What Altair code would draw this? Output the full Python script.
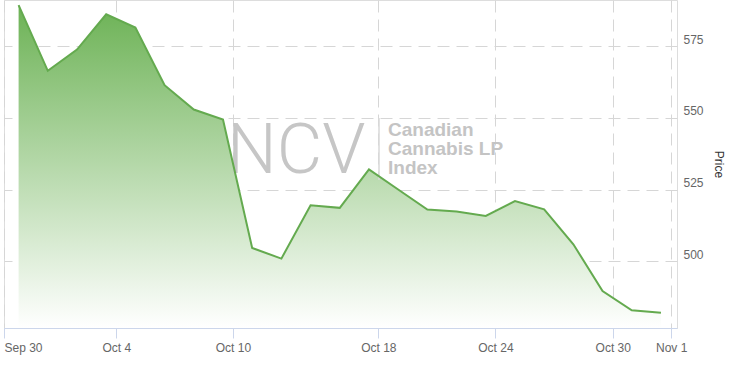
import json
import altair as alt
import pandas as pd

# ---- data (23 trading sessions, ordinal x) ----
session_index = list(range(23))
price = [589.3, 566.4, 573.8, 586.1, 581.5, 561.4, 552.9, 549.4, 504.6, 500.9,
         519.5, 518.6, 532.0, 525.0, 518.0, 517.3, 515.8, 521.0, 518.1, 505.9,
         489.6, 482.9, 482.0]

tick_positions = [-0.5, 3.345, 7.34, 12.32, 16.33, 20.35, 22.35]
tick_labels = ["Sep 30", "Oct 4", "Oct 10", "Oct 18", "Oct 24", "Oct 30", "Nov 1"]
y_ticks = [500, 525, 550, 575]
x_domain = [-0.5, 22.55]
y_domain = [476.7, 591.1]

df = pd.DataFrame({"i": session_index, "price": price})

label_expr = "{}[indexof({}, datum.value)]".format(json.dumps(tick_labels), json.dumps(tick_positions))

GRID = "#d6d6d6"
FONT = "Liberation Sans"

x_enc = alt.X("i:Q", scale=alt.Scale(domain=x_domain, nice=False, zero=False),
              axis=alt.Axis(values=tick_positions, labelExpr=label_expr, title=None,
                            grid=True, gridColor=GRID, gridDash=[12, 7], gridWidth=1,
                            domainColor="#ccd6eb", tickColor="#ccd6eb", tickSize=10,
                            labelPadding=4, labelFont=FONT, labelFontSize=12,
                            labelColor="#666666", labelFlush=2, labelOverlap=False))
y_enc = alt.Y("price:Q", scale=alt.Scale(domain=y_domain, nice=False, zero=False),
              axis=alt.Axis(orient="right", values=y_ticks, grid=True, gridColor=GRID,
                            gridDash=[12, 7], domain=False, ticks=False, labelPadding=6,
                            labelAlign="left", labelBaseline="alphabetic", labelOffset=-3,
                            labelFont=FONT, labelFontSize=12, labelColor="#666666",
                            title="Price", titleFont=FONT, titleFontSize=12,
                            titleFontWeight="normal", titleColor="#333333", titlePadding=8))

base = alt.Chart(df)

area = base.mark_area(
    clip=True,
    color=alt.Gradient(gradient="linear",
                       stops=[alt.GradientStop(color="#6cb255", offset=0),
                              alt.GradientStop(color="#ffffff", offset=1)],
                       x1=0, x2=0, y1=0, y2=1)
).encode(x=x_enc, y=y_enc, y2=alt.datum(y_domain[0]))

line = base.mark_line(color="#64aa4f", strokeWidth=2, clip=True).encode(x="i:Q", y="price:Q")

wm_ncv = alt.Chart(pd.DataFrame({"t": ["NCV"]})).mark_text(
    font="Roboto", fontSize=70, fontWeight=300, color="#c6c6c6", align="left", baseline="alphabetic"
).encode(x=alt.value(223), y=alt.value(173), text="t:N")

wm_lines = ["Canadian", "Cannabis LP", "Index"]
wm_text = alt.Chart(pd.DataFrame({"t": ["\n".join(wm_lines)]})).mark_text(
    font=FONT, fontSize=19, fontWeight="bold", color="#c4c4c4", align="left", baseline="alphabetic",
    lineBreak="\n", lineHeight=19
).encode(x=alt.value(384), y=alt.value(136), text="t:N")

wm_div = alt.Chart(pd.DataFrame({"a": [0]})).mark_rule(color="#d8d8d8", strokeWidth=1.5).encode(
    x=alt.value(375), y=alt.value(118), y2=alt.value(180))

chart = alt.layer(area, wm_ncv, wm_text, wm_div, line).properties(
    width=673, height=328,
    padding={"left": 3, "top": 0, "right": 5, "bottom": 5}
).configure_view(stroke=None).configure(background="white")

chart.save("out.html", embed_options={"renderer": "svg", "actions": False})
